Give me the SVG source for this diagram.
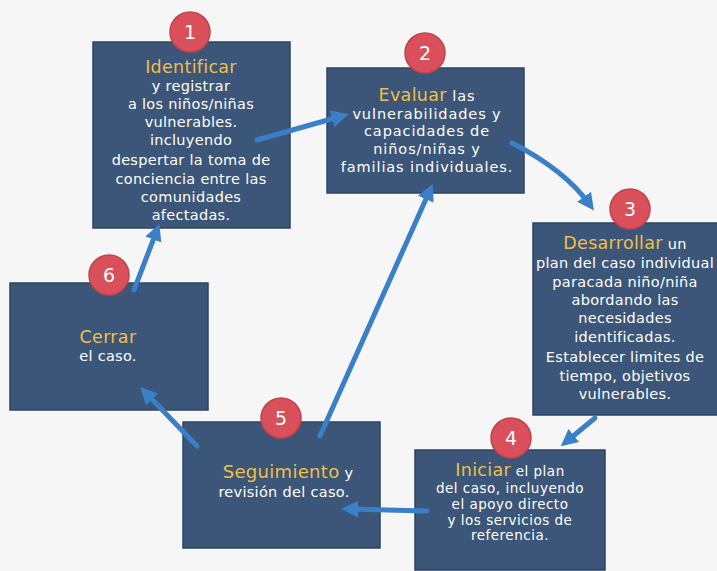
<svg xmlns="http://www.w3.org/2000/svg" width="717" height="571" viewBox="0 0 717 571">
<defs>
<style>
.box{fill:#3b5679;stroke:#2e4563;stroke-width:1.5}
.num{fill:#d9505a;stroke:#c2424c;stroke-width:1.5}
.numt{font-family:"DejaVu Sans",sans-serif;font-size:19px;fill:#ffffff;text-anchor:middle}
.t{font-family:"DejaVu Sans","Open Sans",sans-serif;font-size:14.5px;letter-spacing:0.3px;fill:#ffffff;text-anchor:middle}
.s{font-size:13.5px;letter-spacing:0.5px}
.w{letter-spacing:0.9px}
.h{font-size:17.5px;letter-spacing:0.3px;fill:#f0bf45}
.con{stroke:#3b7fc8;stroke-width:5;fill:none;stroke-linecap:round;marker-end:url(#ah)}
</style>
<marker id="ah" viewBox="0 0 10 10" refX="6" refY="5" markerWidth="3.4" markerHeight="3.4" orient="auto" markerUnits="strokeWidth">
<path d="M0,0 L10,5 L0,10 z" fill="#3b7fc8"/>
</marker>
</defs>
<rect width="717" height="571" fill="#f6f6f6"/>
<g id="node1">
<rect class="box" x="93" y="42" width="197" height="186"/>
<circle class="num" cx="190" cy="32" r="20"/>
<text class="numt" x="190" y="39">1</text>
<text class="t" x="191" y="73"><tspan class="h">Identificar</tspan></text>
<text class="t" x="191" y="91">y registrar</text>
<text class="t" x="191" y="108.5">a los niños/niñas</text>
<text class="t" x="191" y="127">vulnerables.</text>
<text class="t" x="191" y="145">incluyendo</text>
<text class="t" x="191" y="165">despertar la toma de</text>
<text class="t" x="191" y="184">conciencia entre las</text>
<text class="t" x="191" y="202">comunidades</text>
<text class="t" x="191" y="220">afectadas.</text>
</g>
<g id="node2">
<rect class="box" x="327" y="68" width="197" height="125"/>
<circle class="num" cx="425" cy="53" r="20"/>
<text class="numt" x="425" y="60">2</text>
<text class="t w" x="427" y="100.5"><tspan class="h">Evaluar</tspan> las</text>
<text class="t w" x="427" y="118.5">vulnerabilidades y</text>
<text class="t w" x="427" y="136">capacidades de</text>
<text class="t w" x="427" y="154">niños/niñas y</text>
<text class="t w" x="427" y="172">familias individuales.</text>
</g>
<g id="node3">
<rect class="box" x="533" y="223" width="190" height="192"/>
<circle class="num" cx="630" cy="209" r="20"/>
<text class="numt" x="630" y="216">3</text>
<text class="t" x="625" y="249"><tspan class="h">Desarrollar</tspan> un</text>
<text class="t" x="625" y="268">plan del caso individual</text>
<text class="t" x="625" y="287">paracada niño/niña</text>
<text class="t" x="625" y="305">abordando las</text>
<text class="t" x="625" y="323">necesidades</text>
<text class="t" x="625" y="342">identificadas.</text>
<text class="t" x="625" y="362">Establecer limites de</text>
<text class="t" x="625" y="381">tiempo, objetivos</text>
<text class="t" x="625" y="399">vulnerables.</text>
</g>
<g id="node4">
<rect class="box" x="415" y="450" width="190" height="120"/>
<circle class="num" cx="511" cy="438" r="20"/>
<text class="numt" x="511" y="445">4</text>
<text class="t s" x="510" y="476"><tspan class="h">Iniciar</tspan> el plan</text>
<text class="t s" x="510" y="493">del caso, incluyendo</text>
<text class="t s" x="510" y="508.8">el apoyo directo</text>
<text class="t s" x="510" y="524.6">y los servicios de</text>
<text class="t s" x="510" y="540.4">referencia.</text>
</g>
<g id="node5">
<rect class="box" x="183" y="422" width="197" height="126"/>
<circle class="num" cx="281" cy="418" r="20"/>
<text class="numt" x="281" y="425">5</text>
<text class="t" x="288" y="478"><tspan class="h" style="font-size:18px">Seguimiento</tspan> y</text>
<text class="t" x="284" y="496.5">revisión del caso.</text>
</g>
<g id="node6">
<rect class="box" x="10" y="283" width="198" height="127"/>
<circle class="num" cx="109" cy="275" r="20"/>
<text class="numt" x="109" y="282">6</text>
<text class="t" x="108" y="343"><tspan class="h">Cerrar</tspan></text>
<text class="t" x="108" y="361">el caso.</text>
</g>
<g id="connectors">
<path class="con" d="M257,140 L342,116"/>
<path class="con" d="M512,143 Q565,170 590,205"/>
<path class="con" d="M595,418 L566,442"/>
<path class="con" d="M427,511 L348,509"/>
<path class="con" d="M320,436 L430,190"/>
<path class="con" d="M197,446 L145,392"/>
<path class="con" d="M134,290 L157,230"/>
</g>
</svg>
